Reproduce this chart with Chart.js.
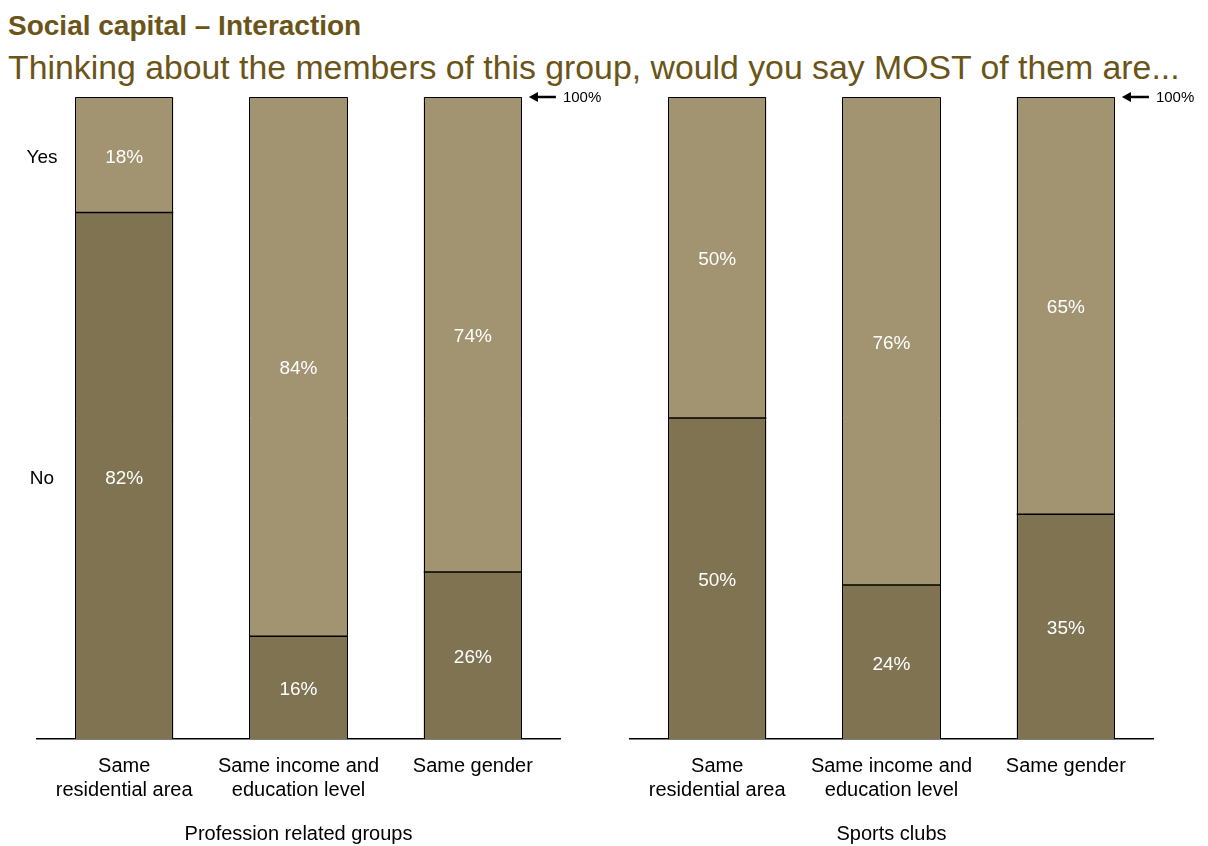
<!DOCTYPE html>
<html>
<head>
<meta charset="utf-8">
<title>Social capital – Interaction</title>
<script src="https://cdn.jsdelivr.net/npm/chart.js@4/dist/chart.umd.min.js"></script>
<style>
  body { margin: 0; background: #fff; width: 1208px; height: 846px; position: relative; overflow: hidden; font-family: "Liberation Sans", Arial, sans-serif; }
  .head { position: absolute; left: 8px; color: #6b5418; white-space: nowrap; }
  #title { top: 12px; font-size: 28px; line-height: 28px; font-weight: bold; }
  #subtitle { top: 50px; font-size: 33.8px; line-height: 34px; }
  canvas { position: absolute; top: 90px; }
  #left { left: 0; }
  #right { left: 604px; }
</style>
</head>
<body>
<div class="head" id="title">Social capital – Interaction</div>
<div class="head" id="subtitle">Thinking about the members of this group, would you say MOST of them are...</div>
<canvas id="left" width="604" height="756"></canvas>
<canvas id="right" width="604" height="756"></canvas>
<script>
var categories = [['Same', 'residential area'], ['Same income and', 'education level'], ['Same gender']];
var groupNames = ['Profession related groups', 'Sports clubs'];
var answerNames = ['No', 'Yes'];

var professionNo = [82, 16, 26];
var professionYes = [18, 84, 74];
var sportsNo = [50, 24, 35];
var sportsYes = [50, 76, 65];

var colorNo = '#7f7351';
var colorYes = '#a29371';
var fontFamily = '"Liberation Sans", Arial, sans-serif';

// crisp bar outlines, segment values, side labels and the 100% marker
var barText = {
    id: 'barText',
    afterDatasetsDraw: function(chart, args, opts) {
        var ctx = chart.ctx;
        var lowMeta = chart.getDatasetMeta(0);
        var topMeta = chart.getDatasetMeta(chart.data.datasets.length - 1);
        ctx.save();

        ctx.strokeStyle = '#000';
        ctx.lineWidth = 1;
        lowMeta.data.forEach(function(bar, j) {
            var upper = topMeta.data[j];
            var l = Math.round(bar.x - bar.width / 2) + 0.5;
            var r = Math.round(bar.x + bar.width / 2) - 0.5;
            var t = Math.round(upper.y) + 0.5;
            var b = Math.round(bar.base);
            ctx.beginPath();
            ctx.moveTo(l, b);
            ctx.lineTo(l, t);
            ctx.lineTo(r, t);
            ctx.lineTo(r, b);
            ctx.stroke();
        });

        // dark line where the two segments meet
        ctx.lineWidth = 1.5;
        lowMeta.data.forEach(function(bar) {
            ctx.beginPath();
            ctx.moveTo(bar.x - bar.width / 2, bar.y);
            ctx.lineTo(bar.x + bar.width / 2, bar.y);
            ctx.stroke();
        });

        ctx.textAlign = 'center';
        ctx.textBaseline = 'middle';
        ctx.font = '19px ' + fontFamily;
        chart.data.datasets.forEach(function(ds, i) {
            chart.getDatasetMeta(i).data.forEach(function(bar, j) {
                ctx.fillStyle = '#fff';
                ctx.fillText(ds.data[j] + '%', bar.x, (bar.y + bar.base) / 2 + 2.5);
            });
        });

        if (opts.sideLabels) {
            ctx.fillStyle = '#000';
            chart.data.datasets.forEach(function(ds, i) {
                var bar = chart.getDatasetMeta(i).data[0];
                ctx.fillText(ds.label, 42, (bar.y + bar.base) / 2 + 2.5);
            });
        }

        var last = topMeta.data[topMeta.data.length - 1];
        var right = last.x + last.width / 2;
        var top = chart.scales.y.getPixelForValue(100);
        ctx.fillStyle = '#000';
        ctx.lineWidth = 2.5;
        ctx.beginPath();
        ctx.moveTo(right + 12, top);
        ctx.lineTo(right + 34, top);
        ctx.stroke();
        ctx.beginPath();
        ctx.moveTo(right + 7, top);
        ctx.lineTo(right + 16, top - 5);
        ctx.lineTo(right + 16, top + 5);
        ctx.closePath();
        ctx.fill();
        ctx.textAlign = 'left';
        ctx.font = '15px ' + fontFamily;
        ctx.fillText('100%', right + 41, top + 1);
        ctx.restore();
    }
};

function makeChart(id, no, yes, group, padLeft, padRight, sideLabels) {
    return new Chart(document.getElementById(id), {
        type: 'bar',
        data: {
            labels: categories,
            datasets: [
                { label: answerNames[0], data: no, backgroundColor: colorNo },
                { label: answerNames[1], data: yes, backgroundColor: colorYes }
            ]
        },
        options: {
            responsive: false,
            animation: false,
            devicePixelRatio: 1,
            layout: { padding: { left: padLeft, right: padRight, top: 7, bottom: 0 } },
            datasets: {
                bar: {
                    borderWidth: 0,
                    barPercentage: 0.563,
                    categoryPercentage: 1
                }
            },
            plugins: {
                legend: { display: false },
                tooltip: { enabled: false },
                barText: { sideLabels: sideLabels }
            },
            scales: {
                x: {
                    stacked: true,
                    grid: { display: false, drawTicks: false },
                    border: { display: true, color: '#000', width: 1.5 },
                    ticks: {
                        color: '#000',
                        padding: 15,
                        maxRotation: 0,
                        autoSkip: false,
                        font: { family: fontFamily, size: 20, lineHeight: 1.2 }
                    },
                    title: {
                        display: true,
                        text: group,
                        color: '#000',
                        padding: { top: 0, bottom: 0 },
                        font: { family: fontFamily, size: 20, lineHeight: 1.2 }
                    },
                    afterFit: function(scale) { scale.height = 107; }
                },
                y: { stacked: true, display: false, min: 0, max: 100 }
            }
        },
        plugins: [barText]
    });
}

makeChart('left', professionNo, professionYes, groupNames[0], 37, 44, true);
makeChart('right', sportsNo, sportsYes, groupNames[1], 26, 55, false);
</script>
</body>
</html>
